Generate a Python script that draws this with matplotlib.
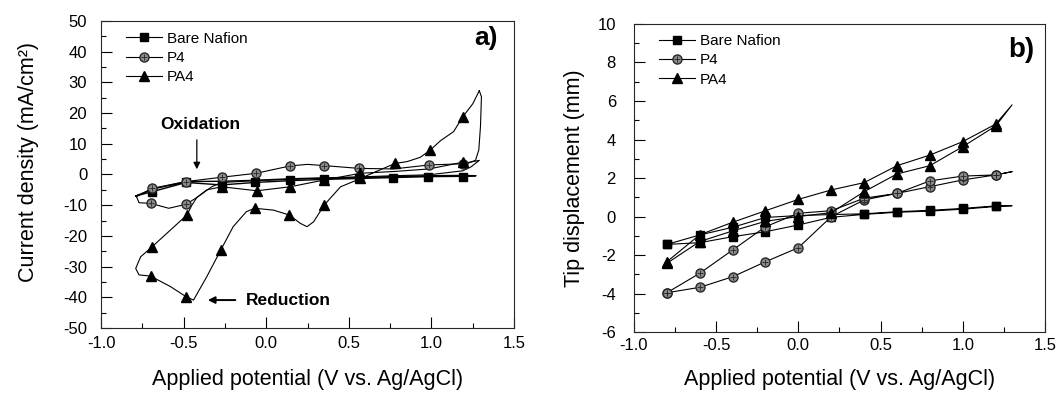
import numpy as np
import matplotlib.pyplot as plt
from matplotlib import ticker as mticker

plt.rcParams['font.family'] = ['Liberation Sans', 'DejaVu Sans']
plt.rcParams['axes.unicode_minus'] = False

# ---- panel a) : cyclic voltammograms (V, mA/cm2), line path
a_bare_v = [-0.79, -0.69, -0.485, -0.27, -0.07, 0.145, 0.35, 0.56, 0.77, 0.98, 1.19, 1.27,
            1.19, 0.98, 0.77, 0.56, 0.35, 0.145, -0.07, -0.27, -0.485, -0.69, -0.79]
a_bare_i = [-7.0, -5.6, -2.6, -3.4, -2.6, -2.0, -1.6, -1.3, -1.0, -0.7, -0.6, -0.4,
            -0.3, -0.4, -0.7, -0.9, -1.1, -1.4, -1.9, -2.2, -2.3, -4.8, -7.0]
a_bare_mv = [-0.69, -0.485, -0.27, -0.07, 0.145, 0.35, 0.56, 0.77, 0.98, 1.19]
a_bare_mi = [-5.6, -2.4, -3.4, -2.4, -1.8, -1.5, -1.2, -1.0, -0.7, -0.7]

a_p4_v = [-0.785, -0.69, -0.485, -0.27, -0.06, 0.145, 0.25, 0.35, 0.56, 0.77, 0.985, 1.19, 1.25, 1.29,
          1.24, 1.19, 0.985, 0.77, 0.56, 0.35, 0.145, -0.06, -0.27, -0.33, -0.42, -0.485, -0.59,
          -0.70, -0.77, -0.785]
a_p4_i = [-7.2, -4.5, -2.3, -0.9, 0.4, 2.8, 3.3, 2.9, 2.0, 1.8, 3.1, 3.5, 4.2, 4.6,
          2.5, 1.2, -0.1, -0.4, -0.8, -1.2, -1.6, -2.0, -2.6, -4.0, -7.5, -9.7, -11.0,
          -9.4, -9.2, -7.2]
a_p4_mv = [-0.69, -0.485, -0.27, -0.06, 0.145, 0.35, 0.56, 0.985, 1.19, -0.485, -0.70]
a_p4_mi = [-4.5, -2.3, -0.9, 0.4, 2.8, 2.9, 2.0, 3.1, 3.5, -9.7, -9.4]

a_pa4_v = [1.29, 1.303, 1.297, 1.287, 1.267, 1.216, 1.19, 0.985, 0.78, 0.57, 0.35, 0.145, -0.056,
           -0.27, -0.36, -0.42, -0.45, -0.48, -0.58, -0.69, -0.76, -0.79, -0.77, -0.70, -0.58,
           -0.485, -0.44, -0.36, -0.275, -0.20, -0.12, -0.07, 0.044, 0.14, 0.206, 0.247, 0.287,
           0.352, 0.45, 0.55, 0.65, 0.78, 0.853, 0.933, 0.994, 1.055, 1.135, 1.19, 1.25, 1.29]
a_pa4_i = [27.3, 25.3, 15.6, 8.0, 4.6, 3.6, 4.0, 1.8, 1.0, 0.4, -1.8, -4.0, -5.3,
           -4.0, -5.0, -7.5, -10.0, -13.2, -18.1, -23.5, -26.8, -30.6, -32.7, -33.1, -36.5,
           -39.8, -40.9, -33.3, -24.6, -17.0, -12.1, -11.0, -11.6, -13.2, -15.9, -17.0, -15.4,
           -9.9, -4.0, -1.8, 0.6, 3.6, 4.2, 5.6, 8.0, 11.0, 14.0, 18.8, 23.0, 27.3]
a_pa4_mv = [-0.48, -0.69, -0.70, -0.485, -0.275, -0.07, 0.14, 0.352, 0.57, 0.78, 0.994, 1.19,
            1.19, 0.57, 0.35, 0.145, -0.056, -0.27]
a_pa4_mi = [-13.2, -23.5, -33.1, -39.8, -24.6, -11.0, -13.2, -9.9, -1.2, 3.6, 8.0, 18.8,
            4.0, 0.4, -1.8, -4.0, -5.3, -4.0]

# ---- panel b) : tip displacement (V, mm)
b_v = [-0.8, -0.6, -0.4, -0.2, 0.0, 0.2, 0.4, 0.6, 0.8, 1.0, 1.2, 1.3,
       1.2, 1.0, 0.8, 0.6, 0.4, 0.2, 0.0, -0.2, -0.4, -0.6, -0.8]
b_bare = [-1.45, -1.36, -1.05, -0.79, -0.44, -0.04, 0.11, 0.22, 0.28, 0.38, 0.52, 0.56,
          0.55, 0.42, 0.32, 0.25, 0.14, 0.10, 0.05, -0.05, -0.56, -0.96, -1.45]
b_p4 = [-3.96, -3.68, -3.13, -2.35, -1.62, -0.01, 0.86, 1.2, 1.55, 1.9, 2.16, 2.33,
        2.16, 2.1, 1.85, 1.2, 0.95, 0.3, 0.17, -0.53, -1.74, -2.95, -3.96]
b_pa4 = [-2.43, -1.3, -0.75, -0.25, 0.0, 0.2, 1.29, 2.21, 2.64, 3.63, 4.7, 5.8,
         4.8, 3.89, 3.19, 2.64, 1.76, 1.38, 0.89, 0.3, -0.3, -0.95, -2.35]

labels = ['Bare Nafion', 'P4', 'PA4']

fig = plt.figure(figsize=(10.6, 3.96), dpi=100)
ax1 = fig.add_axes([0.0953, 0.1717, 0.3896, 0.7753])
ax2 = fig.add_axes([0.5981, 0.1616, 0.3877, 0.7778])

lw = 0.8
sq = dict(marker='s', color='k', ms=6, lw=lw)
ci = dict(marker='o', color='k', mfc='0.55', mec='0.15', ms=6.5, lw=lw)
pl = dict(marker='+', color='0.15', ms=5, mew=0.6, ls='none')
tr = dict(marker='^', color='k', ms=7, lw=lw)


def style(ax, ymaj, ymin, ypad, xpad):
    ax.xaxis.set_major_locator(mticker.MultipleLocator(0.5))
    ax.xaxis.set_minor_locator(mticker.MultipleLocator(0.25))
    ax.yaxis.set_major_locator(mticker.MultipleLocator(ymaj))
    ax.yaxis.set_minor_locator(mticker.MultipleLocator(ymin))
    ax.xaxis.set_major_formatter(mticker.FormatStrFormatter('%.1f'))
    ax.yaxis.set_major_formatter(mticker.FormatStrFormatter('%d'))
    ax.tick_params(which='both', direction='in', top=False, right=False, labelsize=12)
    ax.tick_params(which='major', length=8, width=0.8)
    ax.tick_params(which='minor', length=3.5, width=0.8)
    ax.tick_params(axis='y', pad=ypad)
    ax.tick_params(axis='x', pad=xpad)
    for s in ax.spines.values():
        s.set_linewidth(0.8)
        s.set_color('0.15')
    ax.set_xlim(-1.0, 1.5)
    ax.set_xlabel('Applied potential (V vs. Ag/AgCl)', fontsize=15.5)


# panel a
ax1.plot(a_bare_v, a_bare_i, color='k', lw=1.0)
ax1.plot(a_p4_v, a_p4_i, color='k', lw=lw)
ax1.plot(a_pa4_v, a_pa4_i, color='k', lw=lw)
ax1.plot(a_bare_mv, a_bare_mi, ls='none', **{k: v for k, v in sq.items() if k != 'lw'})
ax1.plot(a_p4_mv, a_p4_mi, ls='none', **{k: v for k, v in ci.items() if k != 'lw'})
ax1.plot(a_p4_mv, a_p4_mi, **pl)
ax1.plot(a_pa4_mv, a_pa4_mi, ls='none', **{k: v for k, v in tr.items() if k != 'lw'})

style(ax1, 10, 5, 10, 6)
ax1.set_ylim(-50, 50)
ax1.set_ylabel('Current density (mA/cm\u00b2)', fontsize=15.5)
ax1.yaxis.set_label_coords(-0.15, 0.54)
ax1.xaxis.set_label_coords(0.5, -0.135)

lg1 = [ax1.plot([], [], **sq)[0],
       (ax1.plot([], [], **ci)[0], ax1.plot([], [], **pl)[0]),
       ax1.plot([], [], **tr)[0]]
ax1.legend(lg1, labels, loc='upper left', bbox_to_anchor=(0.06, 0.965), frameon=False,
           borderpad=0, borderaxespad=0, handlelength=2.4, handletextpad=0.3,
           labelspacing=0.35, fontsize=11)

ax1.text(-0.40, 16.4, 'Oxidation', fontsize=12.5, fontweight='bold', ha='center', va='center')
ax1.annotate('', xy=(-0.42, 0.8), xytext=(-0.42, 12.2),
             arrowprops=dict(arrowstyle='-|>', color='k', lw=0.9, mutation_scale=10))
ax1.text(0.135, -40.9, 'Reduction', fontsize=12.5, fontweight='bold', ha='center', va='center')
ax1.annotate('', xy=(-0.37, -40.9), xytext=(-0.17, -40.9),
             arrowprops=dict(arrowstyle='-|>', color='k', lw=1.4, mutation_scale=10))
ax1.text(0.96, 0.945, 'a)', transform=ax1.transAxes, fontsize=19, fontweight='bold',
         ha='right', va='center')

# panel b
turn = int(np.argmax(b_v))
marks = [i for i in range(len(b_v)) if i != turn]
ax2.plot(b_v, b_bare, markevery=marks, **sq)
ax2.plot(b_v, b_p4, markevery=marks, **ci)
ax2.plot([b_v[i] for i in marks], [b_p4[i] for i in marks], **pl)
ax2.plot(b_v, b_pa4, markevery=marks, **tr)

style(ax2, 2, 1, 13, 4)
ax2.set_ylim(-6, 10)
ax2.set_ylabel('Tip displacement (mm)', fontsize=15.5)
ax2.yaxis.set_label_coords(-0.12, 0.5)
ax2.xaxis.set_label_coords(0.5, -0.12)

lg2 = [ax2.plot([], [], **sq)[0],
       (ax2.plot([], [], **ci)[0], ax2.plot([], [], **pl)[0]),
       ax2.plot([], [], **tr)[0]]
ax2.legend(lg2, labels, loc='upper left', bbox_to_anchor=(0.06, 0.968), frameon=False,
           borderpad=0, borderaxespad=0, handlelength=2.4, handletextpad=0.3,
           labelspacing=0.35, fontsize=11)
ax2.text(0.975, 0.915, 'b)', transform=ax2.transAxes, fontsize=20, fontweight='bold',
         ha='right', va='center')

fig.savefig('out.png', dpi=100)
